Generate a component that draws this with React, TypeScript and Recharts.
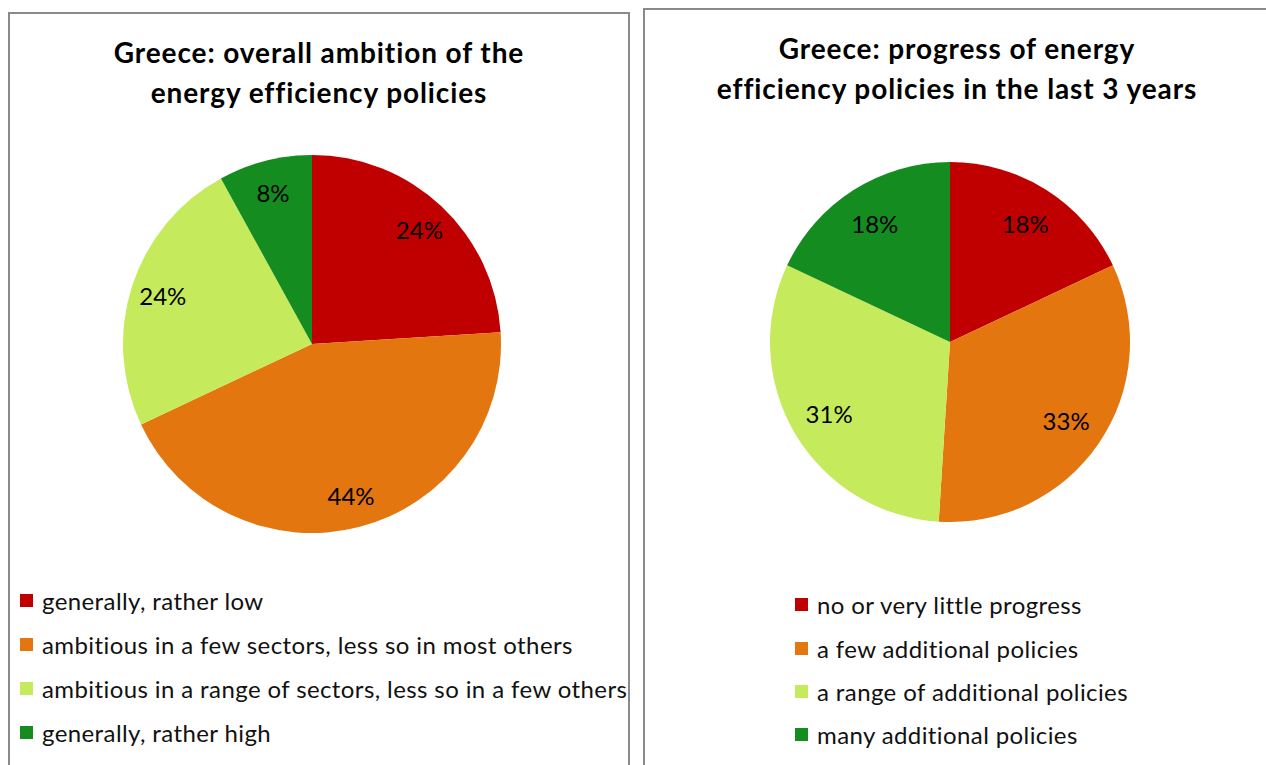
import * as React from 'react';
import { PieChart, Pie, Cell, Legend } from 'recharts';

// colores tomados del gráfico original (paleta semáforo)
const COLORS = ['#C00000', '#E3760F', '#C5EB5C', '#148C20'];

const AMBITION_CATEGORIES = [
  'generally, rather low',
  'ambitious in a few sectors, less so in most others',
  'ambitious in a range of sectors, less so in a few others',
  'generally, rather high',
];
const AMBITION_VALUES = [24, 44, 24, 8];

const PROGRESS_CATEGORIES = [
  'no or very little progress',
  'a few additional policies',
  'a range of additional policies',
  'many additional policies',
];
const PROGRESS_VALUES = [18, 33, 31, 18];

const AMBITION_TITLE = ['Greece: overall ambition of the', 'energy efficiency policies'];
const PROGRESS_TITLE = ['Greece: progress of energy', 'efficiency policies in the last 3 years'];

const FONT = 'Lato, "Open Sans", sans-serif';
const RAD = Math.PI / 180;

interface PanelProps {
  title: string[];
  categories: string[];
  values: number[];
  left: number;
  top: number;
  width: number;
  cx: number;
  cy: number;
  radius: number;
  labelRatio: number;
  titleX: number;
  legendX: number;
  legendTop: number;
  legendGap: number;
}

function Panel({
  title,
  categories,
  values,
  left,
  top,
  width,
  cx,
  cy,
  radius,
  labelRatio,
  titleX,
  legendX,
  legendTop,
  legendGap,
}: PanelProps) {
  const data = categories.map((name, i) => ({ name, value: values[i] }));
  const height = 765 - top + 20;

  const renderLabel = (p: any) => {
    const r = p.outerRadius * labelRatio;
    const x = p.cx + r * Math.cos(-p.midAngle * RAD);
    const y = p.cy + r * Math.sin(-p.midAngle * RAD);
    return (
      <text x={x} y={y} fill="#000" fontSize={24} fontFamily={FONT} textAnchor="middle" dominantBaseline="central">
        {`${p.value}%`}
      </text>
    );
  };

  const renderLegend = () => (
    <div style={{ fontFamily: FONT, fontSize: 24, letterSpacing: 0.4, color: '#111' }}>
      {data.map((d, i) => (
        <div key={d.name} style={{ display: 'flex', alignItems: 'center', height: legendGap, whiteSpace: 'nowrap' }}>
          <span style={{ width: 13, height: 13, background: COLORS[i], marginRight: 9, flex: 'none' }} />
          <span>{d.name}</span>
        </div>
      ))}
    </div>
  );

  return (
    <div
      style={{
        position: 'absolute',
        left,
        top,
        width,
        height,
        boxSizing: 'border-box',
        border: '2px solid #8a8a8a',
        background: '#fff',
      }}
    >
      <div style={{ position: 'absolute', left: -2, top: -2 }}>
        <PieChart width={width} height={height} margin={{ top: 0, right: 0, bottom: 0, left: 0 }}>
          <Pie
            data={data}
            dataKey="value"
            nameKey="name"
            cx={cx}
            cy={cy}
            outerRadius={radius}
            startAngle={90}
            endAngle={-270}
            stroke="none"
            label={renderLabel}
            labelLine={false}
            isAnimationActive={false}
          >
            {data.map((d, i) => (
              <Cell key={d.name} fill={COLORS[i]} />
            ))}
          </Pie>
          <Legend
            content={renderLegend}
            wrapperStyle={{ position: 'absolute', left: legendX, top: legendTop - legendGap / 2, width: 'auto', bottom: 'auto' }}
          />
        </PieChart>
      </div>
      <div
        style={{
          position: 'absolute',
          left: titleX - 300,
          top: 18,
          width: 600,
          textAlign: 'center',
          fontFamily: FONT,
          fontWeight: 700,
          fontSize: 28,
          letterSpacing: 0.9,
          lineHeight: '40px',
          color: '#000',
        }}
      >
        {title.map((t) => (
          <div key={t}>{t}</div>
        ))}
      </div>
    </div>
  );
}

export default function App() {
  return (
    <div
      style={{
        position: 'fixed',
        left: 0,
        top: 0,
        width: 1266,
        height: 765,
        overflow: 'hidden',
        background: '#fff',
      }}
    >
      <Panel
        title={AMBITION_TITLE}
        categories={AMBITION_CATEGORIES}
        values={AMBITION_VALUES}
        left={8}
        top={12}
        width={622}
        cx={304}
        cy={332}
        radius={189}
        labelRatio={0.83}
        titleX={309}
        legendX={12}
        legendTop={588}
        legendGap={44}
      />
      <Panel
        title={PROGRESS_TITLE}
        categories={PROGRESS_CATEGORIES}
        values={PROGRESS_VALUES}
        left={643}
        top={8}
        width={640}
        cx={307}
        cy={334}
        radius={180}
        labelRatio={0.78}
        titleX={312}
        legendX={152}
        legendTop={597}
        legendGap={43.3}
      />
    </div>
  );
}
